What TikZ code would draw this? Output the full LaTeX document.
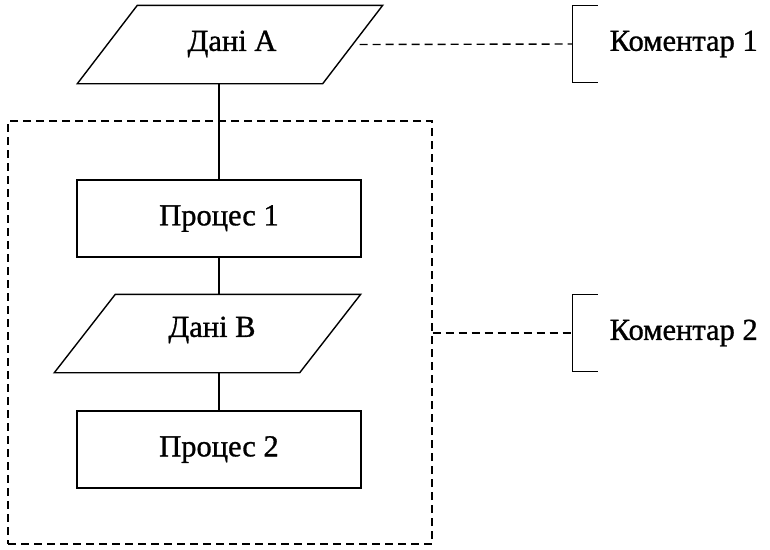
\documentclass[tikz,border=0pt]{standalone}
\usepackage{fontspec}
\setmainfont{Liberation Serif}[FakeBold=1]
\begin{document}
\begin{tikzpicture}[x=1pt,y=-1pt,
  line width=1.4pt,
  txt/.style={font=\fontsize{30.5}{34}\selectfont},
  procbox/.style={draw, rectangle, minimum width=284pt, minimum height=77pt, inner sep=0pt, txt},
  databox/.style={rectangle, minimum width=244pt, minimum height=77pt, inner sep=0pt, txt},
  brk/.style={rectangle, minimum width=24pt, minimum height=76pt, inner sep=0pt},
  dsh/.style={dash pattern=on 8pt off 5pt},
  note/.style={anchor=west, inner sep=0pt, txt}]
\useasboundingbox (0,0) rectangle (770,549);
% group box
\node[draw, dsh, rectangle, minimum width=424pt, minimum height=423pt, inner sep=0pt] (grp) at (220,332.5) {};
% nodes
\node[databox] (A) at (230,44.5) {};
\node[txt] (Atxt) at (232,44) {Дані А};
\draw ([xshift=30pt]A.north west) -- ([xshift=30pt]A.north east) -- ([xshift=-30pt]A.south east) -- ([xshift=-30pt]A.south west) -- cycle;
\node[procbox, fill=white] (P1) at (219,218.5) {Процес 1};
\node[databox] (B) at (207.5,333.5) {};
\node[txt] (Btxt) at (212,330) {Дані В};
\draw ([xshift=30.5pt]B.north west) -- ([xshift=30.5pt]B.north east) -- ([xshift=-30.5pt]B.south east) -- ([xshift=-30.5pt]B.south west) -- cycle;
\node[procbox] (P2) at (219,449.5) {Процес 2};
% connectors
\draw (P1.north |- A.south) -- (P1.north);
\draw (P1.south) -- (P1.south |- B.north);
\draw (P2.north |- B.south) -- (P2.north);
% comments
\node[brk] (br1) at (585,44) {};
\draw (br1.north east) -- (br1.north west) -- (br1.south west) -- (br1.south east);
\node[note] (c1) at (609,44) {Коментар 1};
\draw[dsh] ([xshift=7pt]A.east) -- (br1.west);
\node[brk] (br2) at (585,333) {};
\draw (br2.north east) -- (br2.north west) -- (br2.south west) -- (br2.south east);
\node[note] (c2) at (609,333) {Коментар 2};
\draw[dsh] (grp.east |- br2.west) -- (br2.west);
\end{tikzpicture}
\end{document}
